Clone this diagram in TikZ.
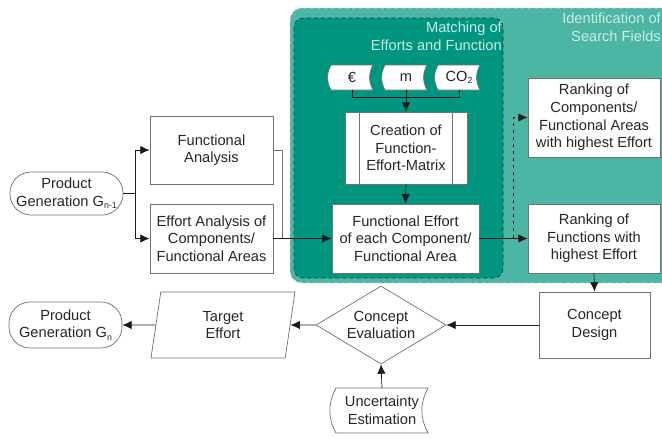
\documentclass[tikz,border=0pt]{standalone}
\usepackage{fontspec}
\setmainfont{Liberation Sans}
\usetikzlibrary{shapes.geometric, arrows.meta, positioning}
\definecolor{verdeEscuro}{HTML}{00957F}
\definecolor{verdeClaro}{HTML}{4DB5A3}
\definecolor{verdeTexto}{HTML}{C8EEE5}
\definecolor{borda}{HTML}{707070}
\definecolor{traco}{HTML}{1A1A1A}
\tikzset{
	% caixas
	caixa/.style={
		draw=borda,
		fill=white,
		line width=0.6pt,
		align=center,
		inner sep=1pt
	}, %
	terminal/.style={
		caixa,
		rounded corners=18pt
	}, %
	decisao/.style={
		caixa,
		diamond,
		aspect=1.67,
		inner sep=0pt
	}, %
	entrada/.style={
		caixa,
		trapezium,
		trapezium left angle=72,
		trapezium right angle=108,
		trapezium stretches body
	}, %
	dados/.style={
		align=center,
		inner sep=0pt
	}, %
	titulo/.style={
		text=verdeTexto,
		align=right,
		anchor=north east,
		inner sep=0pt
	}, %
	% conectores
	seta/.style={
		-{Latex[length=8pt, width=7pt]},
		draw=traco,
		line width=0.6pt
	}, %
	linha/.style={
		draw=borda,
		line width=0.6pt
	} %
}
% centro x, centro y, largura, altura
\newcommand{\formadados}[4]{%
	\draw[caixa] (#1-#3/2, #2-#4/2) -- (#1+#3/2, #2-#4/2)
	to[bend right=28] (#1+#3/2, #2+#4/2) -- (#1-#3/2, #2+#4/2)
	to[bend left=28] (#1-#3/2, #2-#4/2) -- cycle;}
% indice pequeno
\newcommand{\indice}[1]{\raisebox{-0.3ex}{\fontsize{7.5}{8}\selectfont #1}}

\begin{document}
\begin{tikzpicture}[x=0.03cm, y=-0.03cm, font=\fontsize{12.5}{15}\selectfont, text=black!85]
	\useasboundingbox (0,0) rectangle (662,438);
	
	% areas
	\draw[fill=verdeClaro, draw=white!80!gray, dashed, line width=0.8pt, rounded corners=10pt] (290,8) rectangle (680,283);
	\draw[fill=verdeEscuro, draw=verdeEscuro!45!black, dashed, line width=0.6pt, rounded corners=8pt] (294,18) rectangle (503,278);
	\node[titulo] (tMatch) at (502,22) {Matching of\\Efforts and Function};
	\node[titulo] (tIdent) at (661,13) {Identification of\\Search Fields};
	
	% geração anterior
	\node[terminal, minimum width=3.39cm, minimum height=1.29cm] (prodAnt) at (66.5,193.5) {Product\\Generation G\indice{n-1}};
	\node[caixa, minimum width=3.69cm, minimum height=2.04cm] (funcAna) at (211.5,150) {Functional\\Analysis};
	\node[caixa, minimum width=3.69cm, minimum height=2.07cm] (effAna) at (211.5,238.5) {Effort Analysis of\\Components/\\Functional Areas};
	
	% esforços
	\formadados{352}{77.5}{42}{25}
	\node[dados, minimum width=1.26cm, minimum height=0.75cm] (euro) at (352,77.5) {€};
	\formadados{406}{77.5}{42}{25}
	\node[dados, minimum width=1.26cm, minimum height=0.75cm] (massa) at (406,77.5) {m};
	\formadados{459}{77.5}{42}{25}
	\node[dados, minimum width=1.26cm, minimum height=0.75cm] (co2) at (459,77.5) {CO\indice{2}};
	
	% matriz
	\node[caixa, minimum width=3.66cm, minimum height=2.16cm] (matriz) at (406,148) {Creation of\\Function-\\Effort-Matrix};
	\draw[linha] ([xshift=0.45cm]matriz.north west) -- ([xshift=0.45cm]matriz.south west);
	\draw[linha] ([xshift=-0.45cm]matriz.north east) -- ([xshift=-0.45cm]matriz.south east);
	\node[caixa, minimum width=4.41cm, minimum height=2.07cm] (funcEff) at (405.5,238.5) {Functional Effort\\of each Component/\\Functional Area};
	
	% rankings
	\node[caixa, minimum width=3.96cm, minimum height=2.37cm] (rankComp) at (594,117.5) {Ranking of\\Components/\\Functional Areas\\with highest Effort};
	\node[caixa, minimum width=3.96cm, minimum height=2.07cm] (rankFunc) at (594,238.5) {Ranking of\\Functions with\\highest Effort};
	
	% conceito
	\node[caixa, minimum width=3.33cm, minimum height=1.98cm] (design) at (594.5,325) {Concept\\Design};
	\node[decisao, minimum width=3.9cm, minimum height=2.34cm] (aval) at (381,325) {Concept\\Evaluation};
	\node[entrada, minimum width=4.32cm, minimum height=1.98cm] (alvo) at (223,325) {Target\\Effort};
	\node[terminal, minimum width=3.39cm, minimum height=1.38cm] (prodNew) at (65.5,325) {Product\\Generation G\indice{n}};
	\formadados{382}{410.5}{92}{45}
	\node[dados, minimum width=2.76cm, minimum height=1.35cm] (incerteza) at (382,410.5) {Uncertainty\\Estimation};
	
	% conectores
	\coordinate (junta) at (135,193.5);
	\draw[linha, draw=traco] (prodAnt.east) -- (junta);
	\draw[seta] (junta) |- (funcAna.west);
	\draw[seta] (junta) |- (effAna.west);
	\coordinate (une) at (282,238.5);
	\draw[linha] (funcAna.east) -| (une);
	\draw[seta] (effAna.east) -- (funcEff.west);
	
	\draw[linha, draw=traco] (euro.south) -- ++(0,7) -| (co2.south);
	\draw[seta] (massa.south) -- (matriz.north);
	\draw[seta] (matriz.south) -- (funcEff.north);
	
	\coordinate (ramo) at (513,238.5);
	\draw[seta] (funcEff.east) -- (rankFunc.west);
	\draw[seta, dashed] (ramo) |- (rankComp.west);
	\draw[seta] (rankFunc.south) -- (design.north);
	
	\draw[seta] (design.west) -- (aval.east);
	\draw[seta] (aval.west) -- (alvo.east);
	\draw[seta] (alvo.west) -- (prodNew.east);
	\draw[seta] (incerteza.north) -- (aval.south);
\end{tikzpicture}
\end{document}
